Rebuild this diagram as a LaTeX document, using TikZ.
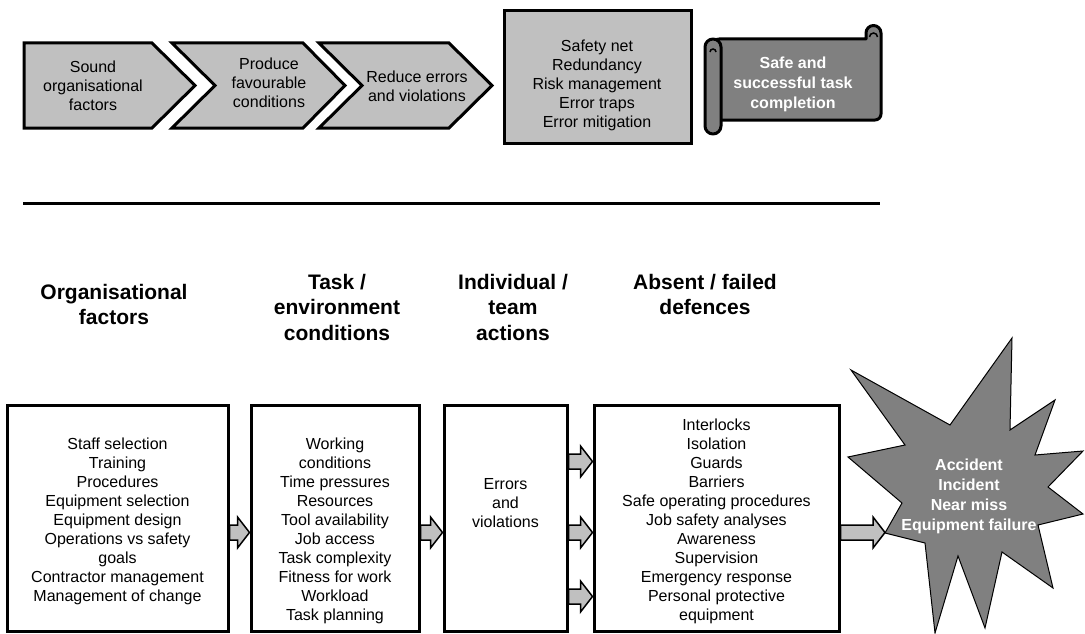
\documentclass[tikz,border=0pt]{standalone}
\usepackage{fontspec}
\setmainfont{Liberation Sans}
\usetikzlibrary{calc}
\definecolor{pale}{HTML}{C0C0C0}
\definecolor{dim}{HTML}{808080}

\newcommand{\flowarrow}[2]{%
  \draw[arrowbody] let \p1=(#1), \p2=(#2) in
    (\x1,{\y1+7.5pt}) -- ({\x2-12pt},{\y1+7.5pt}) -- ({\x2-12pt},{\y1+15.5pt})
    -- (\x2,\y1) -- ({\x2-12pt},{\y1-15.5pt}) -- ({\x2-12pt},{\y1-7.5pt})
    -- (\x1,{\y1-7.5pt}) -- cycle;}

\begin{document}
\begin{tikzpicture}[x=1pt, y=-1pt,
    txt/.style={align=center, inner sep=0pt, font=\fontsize{16}{19}\selectfont},
    head/.style={align=center, inner sep=0pt, font=\fontsize{21}{25.5}\selectfont\bfseries},
    whitetxt/.style={align=center, inner sep=0pt, text=white, font=\fontsize{16}{20}\selectfont\bfseries},
    chevron/.style={draw, line width=3pt, fill=pale, line join=miter},
    lowbox/.style={draw, line width=3pt, inner sep=0pt, minimum height=226pt},
    scroll/.style={draw, line width=3pt, fill=dim, line join=round},
    arrowbody/.style={draw, line width=1.5pt, fill=pale, line join=miter},
  ]
  \useasboundingbox (0,0) rectangle (1085,634);

  % top row
  \draw[chevron] (24,43) -- (152,43) -- (195,85.5) -- (152,128) -- (24,128) -- cycle;
  \draw[chevron] (172,43) -- (303,43) -- (345,85.5) -- (303,128) -- (172,128) -- (215,85.5) -- cycle;
  \draw[chevron] (319,43) -- (449,43) -- (492,85.5) -- (449,128) -- (319,128) -- (362,85.5) -- cycle;
  \node[txt] (sound) at (93,86) {Sound\\organisational\\factors};
  \node[txt] (produce) at (269,83) {Produce\\favourable\\conditions};
  \node[txt] (reduce) at (417,86) {Reduce errors\\and violations};

  \node[lowbox, fill=pale, minimum width=187pt, minimum height=132pt] (safety) at (597.5,77) {};
  \node[txt] (nets) at (597,85) {Safety net\\Redundancy\\Risk management\\Error traps\\Error mitigation};

  \draw[scroll] (713,39) -- (866,39) -- (866,33) arc[start angle=180, end angle=360, radius=7.5]
    [rounded corners=6pt] -- (881,120) -- (713,120) -- cycle;
  \draw[line width=1.5pt] (869.5,37) arc[start angle=180, end angle=360, radius=4];
  \draw[scroll] (705,47) arc[start angle=180, end angle=360, radius=8] -- (721,126)
    arc[start angle=0, end angle=180, radius=8] -- cycle;
  \draw[line width=1.5pt] (710,52) arc[start angle=180, end angle=360, radius=3];
  \node[whitetxt] (done) at (793,84) {Safe and\\successful task\\completion};

  \draw[line width=3pt] (23,203) -- (880,203);

  % headings
  \node[head] (orghead) at (114,304.5) {Organisational\\factors};
  \node[head] (taskhead) at (337,307) {Task /\\environment\\conditions};
  \node[head] (teamhead) at (513,307) {Individual /\\team\\actions};
  \node[head] (defhead) at (705,294.5) {Absent / failed\\defences};

  % lower row
  \node[lowbox, minimum width=221pt] (org) at (117.5,518) {};
  \node[lowbox, minimum width=168pt] (task) at (335,518) {};
  \node[lowbox, minimum width=123pt] (team) at (505.5,518) {};
  \node[lowbox, minimum width=245pt] (defence) at (716.5,518) {};
  \node[txt] (orglist) at (117.5,521.5) {Staff selection\\Training\\Procedures\\Equipment selection\\Equipment design\\Operations vs safety\\goals\\Contractor management\\Management of change};
  \node[txt] (tasklist) at (335,531) {Working\\conditions\\Time pressures\\Resources\\Tool availability\\Job access\\Task complexity\\Fitness for work\\Workload\\Task planning};
  \node[txt] (teamlist) at (505.5,503) {Errors\\and\\violations};
  \node[txt] (deflist) at (716.5,521) {Interlocks\\Isolation\\Guards\\Barriers\\Safe operating procedures\\Job safety analyses\\Awareness\\Supervision\\Emergency response\\Personal protective\\equipment};

  \draw[line width=1pt, fill=dim, line join=miter] (851,370) -- (950,425) -- (1012,338) -- (1010,430)
    -- (1055,400) -- (1035,455) -- (1083,451) -- (1048,487) -- (1083,514) -- (1038,525)
    -- (1053,588) -- (1002,552) -- (985,628) -- (958,556) -- (935,633) -- (925,543)
    -- (885,533) coordinate (hit) -- (902,503) -- (848,457) -- (905,445) -- cycle;
  \node[whitetxt] (accident) at (969,496) {Accident\\Incident\\Near miss\\Equipment failure};

  \flowarrow{org.east |- 0,532.5}{task.west |- 0,532.5}
  \flowarrow{task.east |- 0,532.5}{team.west |- 0,532.5}
  \flowarrow{team.east |- 0,461.5}{defence.west |- 0,461.5}
  \flowarrow{team.east |- 0,532.5}{defence.west |- 0,532.5}
  \flowarrow{team.east |- 0,596.5}{defence.west |- 0,596.5}
  \flowarrow{defence.east |- 0,532.5}{hit}
\end{tikzpicture}
\end{document}
